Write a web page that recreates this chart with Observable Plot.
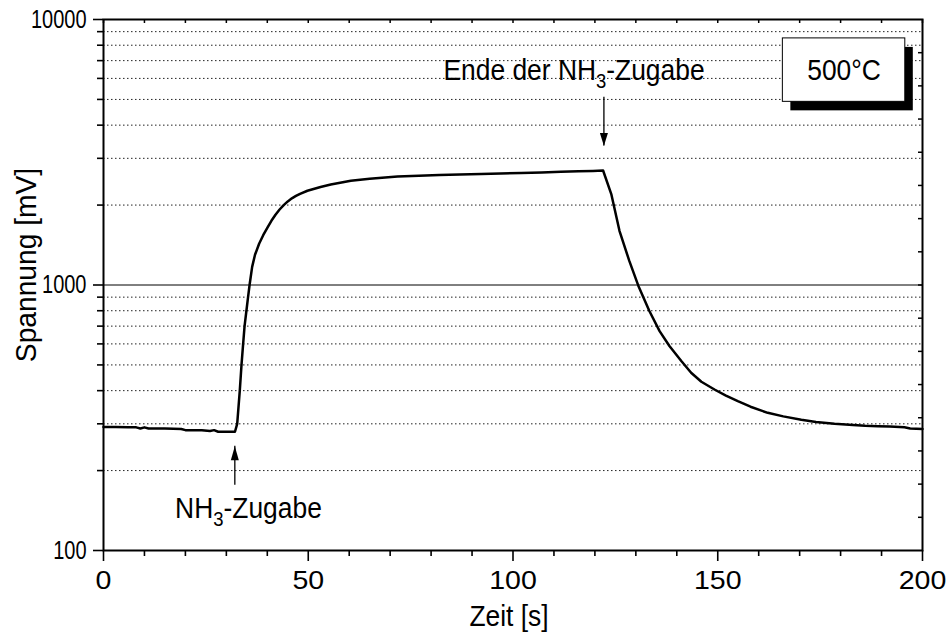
<!DOCTYPE html>
<html>
<head>
<meta charset="utf-8">
<script src="https://cdn.jsdelivr.net/npm/d3@7"></script>
<script src="https://cdn.jsdelivr.net/npm/@observablehq/plot@0.6"></script>
<style>
  html, body { margin: 0; padding: 0; background: #fff; }
</style>
</head>
<body>
<div id="chart"></div>
<script>
// ---- data ----
const times = [0, 3, 6, 8, 9, 10, 11, 15, 19, 20, 24, 26, 27, 28, 31, 32.1,
  32.65, 33.28, 33.7, 34.1, 34.45, 34.9, 35.3, 35.67, 36.3, 37, 38, 39, 40, 41, 42, 43, 44, 45, 46, 47, 48, 49.8,
  53, 55.5, 60.4, 65, 71.8, 77, 82, 87, 92.2, 97, 102, 107, 111.7, 116, 119.5, 122,
  124, 126, 128.4, 130.6, 133.3, 135.8, 138.2, 141.1, 143.5, 146, 149.2, 152, 154.9,
  158, 162.2, 166, 170.4, 174, 178.5, 183, 186, 189.1, 192, 195.6, 197, 200];
const voltages = [292, 292, 291, 291, 288, 291, 288, 288, 287, 284, 284, 282, 284, 280, 280, 280,
  300, 400, 500, 600, 700, 800, 900, 1000, 1170, 1300, 1430, 1540, 1640, 1745, 1840, 1925, 2000, 2065, 2120, 2165, 2205, 2265,
  2340, 2390, 2470, 2515, 2560, 2580, 2595, 2605, 2617, 2630, 2640, 2655, 2670, 2680, 2690, 2700,
  2200, 1600, 1232, 994, 798, 670, 589, 517, 467, 432, 404, 383, 365,
  348, 330, 320, 311, 305, 300, 297, 295, 294, 293, 291, 288, 287];

const xMajor = [0, 50, 100, 150, 200];
const xMinor = [10, 20, 30, 40, 60, 70, 80, 90, 110, 120, 130, 140, 160, 170, 180, 190];
const yMajor = [100, 1000, 10000];
const yMinor = [200, 300, 400, 500, 600, 700, 800, 900, 2000, 3000, 4000, 5000, 6000, 7000, 8000, 9000];
const rightTicks = d3.range(1, 16).map(k => Math.pow(10, 2 + k / 8));

// annotations (data units)
const notes = [
  {t: 35.4, v: 132.8, label: "NH3-Zugabe"},
  {t: 114.9, v: 5910, label: "Ende der NH3-Zugabe"}
];
const arrows = [
  {t: 32.07, from: 176, to: 247, dir: "up"},
  {t: 122.2, from: 5099, to: 3341, dir: "down"}
];
const box = [{x1: 165.9, x2: 195.8, y1: 8488, y2: 4896}];
const boxLabel = [{t: 180.85, v: 5910, label: "500°C"}];

const data = times.map((t, i) => ({t, v: voltages[i]}));

const headUp = {draw(ctx) { ctx.moveTo(0, 0); ctx.lineTo(4, 14); ctx.lineTo(-4, 14); ctx.closePath(); }};
const headDown = {draw(ctx) { ctx.moveTo(0, 0); ctx.lineTo(4, -13); ctx.lineTo(-4, -13); ctx.closePath(); }};

const W = 947, H = 632, mL = 103, mR = 25, mT = 19, mB = 82;
const innerW = W - mL - mR, innerH = H - mT - mB;
const font = "'Liberation Sans', Arial, sans-serif";

const chart = Plot.plot({
  width: W,
  height: H,
  marginLeft: mL,
  marginRight: mR,
  marginTop: mT,
  marginBottom: mB,
  style: {fontFamily: font, background: "white", color: "black", overflow: "visible"},
  x: {domain: [0, 200], axis: null},
  y: {type: "log", domain: [100, 10000], axis: null},
  marks: [
    Plot.ruleY(yMinor, {stroke: "#222", strokeWidth: 1, strokeDasharray: "1.5 2.5"}),
    Plot.ruleY([1000], {stroke: "black", strokeWidth: 1}),
    // box with shadow
    Plot.rect(box, {x1: "x1", x2: "x2", y1: "y1", y2: "y2", fill: "black", dx: 8, dy: 9}),
    Plot.rect(box, {x1: "x1", x2: "x2", y1: "y1", y2: "y2", fill: "white", stroke: "black", strokeWidth: 1}),
    Plot.text(boxLabel, {x: "t", y: "v", text: "label", fontSize: 30, lineAnchor: "bottom", fill: "black", className: "big"}),
    // curve
    Plot.line(data, {x: "t", y: "v", stroke: "black", strokeWidth: 2.5, strokeLinejoin: "round"}),
    // arrows
    Plot.ruleX(arrows, {x: "t", y1: "from", y2: "to", stroke: "black", strokeWidth: 1.3}),
    Plot.dot(arrows.filter(d => d.dir === "up"), {x: "t", y: "to", symbol: headUp, fill: "black", stroke: null}),
    Plot.dot(arrows.filter(d => d.dir === "down"), {x: "t", y: "to", symbol: headDown, fill: "black", stroke: null}),
    Plot.text(notes, {x: "t", y: "v", text: "label", fontSize: 30, lineAnchor: "bottom", fill: "black", className: "big"}),
    // frame
    Plot.frame({stroke: "black", strokeWidth: 2}),
    // axes
    Plot.axisX(xMajor, {anchor: "bottom", tickSize: 11, tickPadding: 9, strokeWidth: 1.6, label: null, tickFormat: d => String(d), className: "xlab"}),
    Plot.axisX(xMinor, {anchor: "bottom", tickSize: 6, strokeWidth: 1.6, label: null, tickFormat: () => ""}),
    Plot.axisY(yMajor, {anchor: "left", tickSize: 10, tickPadding: 7, strokeWidth: 1.6, label: null, tickFormat: d => String(d), className: "ylab"}),
    Plot.axisY(yMinor, {anchor: "left", tickSize: 6, strokeWidth: 1.6, label: null, tickFormat: () => ""}),
    // inside ticks on top and right
    Plot.ruleX(xMajor.concat(xMinor), {insetBottom: innerH - 4, stroke: "black", strokeWidth: 1.5}),
    Plot.ruleY(rightTicks, {insetLeft: innerW - 4, stroke: "black", strokeWidth: 1.5}),
    // axis titles
    Plot.text(["Zeit [s]"], {frameAnchor: "bottom", text: d => d, dy: 75, dx: -4, lineAnchor: "bottom", fontSize: 30, fill: "black", className: "big"}),
    Plot.text(["Spannung [mV]"], {frameAnchor: "left", text: d => d, rotate: -90, dx: -68, dy: -20, lineAnchor: "bottom", textAnchor: "middle", fontSize: 30, fill: "black", className: "ytitle"})
  ]
});

const svg = d3.select(chart);

// subscript "3" in NH3
svg.selectAll("text").each(function() {
  const t = this.textContent;
  if (t.includes("NH3")) {
    const i = t.indexOf("NH3");
    const a = t.slice(0, i + 2), b = t.slice(i + 3);
    const sel = d3.select(this);
    sel.text(null);
    sel.append("tspan").text(a);
    sel.append("tspan").attr("font-size", 21).attr("dy", 8).text("3");
    sel.append("tspan").attr("dy", -8).text(b);
  }
});

// horizontal scaling of glyphs around each text's anchor x
function condense(sel, sx) {
  sel.each(function() {
    const xa = this.getAttribute("x");
    const x = xa && !/em$/.test(xa) ? parseFloat(xa) || 0 : 0;
    const tr = this.getAttribute("transform") || "";
    this.setAttribute("transform", `${tr} translate(${x},0) scale(${sx},1) translate(${-x},0)`);
  });
}
svg.selectAll(".xlab text").style("font-size", "25.5px");
svg.selectAll(".ylab text").style("font-size", "25px");
condense(svg.selectAll(".xlab text"), 1.12);
condense(svg.selectAll(".ylab text"), 0.8);
condense(svg.selectAll(".big text"), 0.88);
condense(svg.selectAll(".ytitle text"), 0.94);

document.getElementById("chart").appendChild(chart);
</script>
</body>
</html>
